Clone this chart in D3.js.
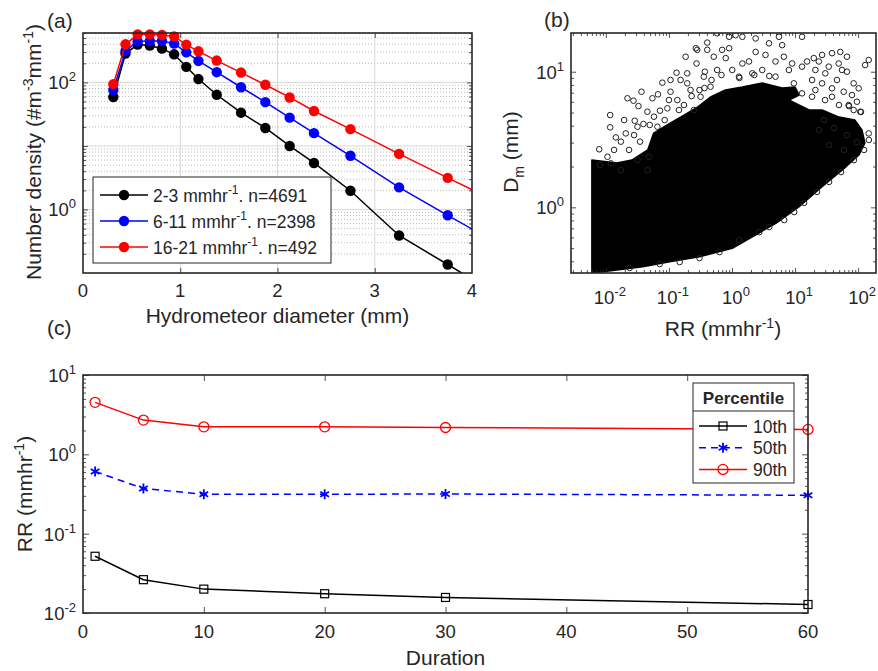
<!DOCTYPE html>
<html>
<head>
<meta charset="utf-8">
<script src="https://cdn.jsdelivr.net/npm/d3@7"></script>
<style>
  body { margin: 0; background: #fff; }
  text { font-family: "Liberation Sans", Arial, Helvetica, sans-serif; fill: #262626; }
</style>
</head>
<body>
<div id="fig"></div>
<script>
// ---- panel (a): drop size distributions ----
var diam = [0.312, 0.437, 0.562, 0.687, 0.812, 0.937, 1.062, 1.187, 1.375, 1.625, 1.875, 2.125, 2.375, 2.75, 3.25, 3.75, 4.25];
var nd_2_3 = [59, 285, 394, 380, 340, 277, 176, 113, 64, 33.4, 19.2, 10, 5.4, 1.97, 0.39, 0.136, 0.047];
var nd_6_11 = [76, 313, 443, 449, 449, 408, 298, 218, 145, 84, 49, 27.9, 15.9, 7.0, 2.23, 0.81, 0.30];
var nd_16_21 = [94, 398, 571, 571, 557, 531, 394, 309, 221, 143, 92, 58, 35.5, 18.4, 7.5, 3.14, 1.35];
var rateBins = ["2-3", "6-11", "16-21"];
var binCounts = [4691, 2398, 492];

// ---- panel (b): RR vs Dm scatter ----
// dense core of the cloud (outline)
var coreRR = [0.0060, 0.0060, 0.0149, 0.0258, 0.0461, 0.0573, 0.106, 0.153, 0.284, 0.456, 0.787, 1.46, 3.02, 6.25, 10.0, 11.6, 8.07, 16.7, 26.8, 49.8, 88.9, 115, 128, 103, 64.1, 26.8, 11.6, 5.02, 2.10, 1.01, 0.305, 0.103, 0.0385, 0.00897];
var coreDm = [0.328, 2.23, 2.12, 2.23, 2.65, 3.53, 4.19, 4.63, 5.49, 6.51, 7.33, 7.71, 8.26, 7.58, 7.71, 6.73, 6.18, 5.22, 5.22, 4.63, 4.40, 3.72, 2.98, 2.43, 1.99, 1.42, 1.01, 0.766, 0.607, 0.499, 0.432, 0.397, 0.365, 0.335];
// scattered points outside the core
var ptRR = [0.0117, 0.0117, 0.00784, 0.0220, 0.0274, 0.0367, 0.0329, 0.0547, 0.0670, 0.0787, 0.106, 0.132, 0.184, 0.267, 0.405, 0.582, 0.274, 0.371, 0.195, 0.0456, 0.0721, 0.0195, 0.0287, 0.0394, 0.0207, 0.0144, 0.0173, 0.0280, 0.0348, 0.0135, 0.0106, 0.106, 0.136, 0.195, 0.0944, 0.144,
  1.46, 2.37, 3.86, 6.25, 6.65, 7.98, 4.90, 3.02, 1.86, 0.900, 0.795, 1.01, 12.9, 19.8, 26.8, 38.5, 52.1, 66.5, 49.2, 34.2, 21.0, 18.6, 26.8, 46.2, 66.5, 147, 129, 102, 79.8, 95.7, 84.9, 147, 9.57, 12.9, 18.6, 38.5, 59.0, 1.14, 0.900, 5.55,
  0.305, 0.473, 0.681, 1.31, 2.26, 3.90, 0.229, 0.366, 0.0855, 0.0496, 0.00804,
  1.31, 2.71, 6.73, 13.9, 22.3, 34.6, 53.5, 85.9, 0.305, 0.632, 0.148, 0.0713, 0.0239, 3.90, 9.68, 124, 148,
  28.8, 41.5, 66.5, 95.7, 59.7, 34.6, 24.0, 111, 71.6, 49.8, 29.9,
  0.153, 0.220, 0.317, 0.456, 0.357, 0.582, 0.514, 0.698, 0.281, 0.405, 0.100, 0.173, 0.248, 0.0579, 0.0317, 0.0233, 0.0317, 0.0483, 0.0120, 0.0173, 0.0456, 0.0656,
  2.37, 3.40, 4.90, 8.99, 12.9, 2.10, 1.29, 1.46, 15.5, 23.8, 55.5, 84.9, 30.2, 21.0, 38.5, 70.8, 108];
var ptDm = [4.79, 3.89, 2.68, 6.37, 6.11, 7.12, 5.58, 6.37, 6.81, 8.30, 8.69, 9.83, 12.9, 14.9, 16.4, 19.2, 11.5, 10.0, 9.73, 5.07, 5.16, 4.40, 4.35, 4.12, 3.51, 3.28, 3.05, 3.41, 3.05, 2.65, 2.36, 7.12, 6.18, 8.21, 5.37, 5.22,
  18.1, 14.0, 16.2, 15.7, 12.9, 10.3, 11.9, 10.3, 11.9, 14.9, 12.6, 10.3, 10.9, 12.6, 13.3, 13.7, 14.0, 12.9, 11.5, 10.9, 10.3, 8.69, 8.21, 8.69, 10.0, 12.2, 11.2, 7.54, 6.73, 6.01, 5.22, 3.51, 8.21, 6.93, 6.54, 6.54, 7.12, 18.6, 18.1, 18.1,
  7.33, 8.69, 9.46, 8.99, 9.46, 9.30, 6.62, 7.58, 4.40, 4.05, 2.05,
  0.574, 0.657, 0.806, 1.08, 1.30, 1.54, 1.82, 2.23, 0.423, 0.468, 0.395, 0.382, 0.357, 0.716, 0.923, 2.65, 3.14,
  4.40, 3.85, 3.41, 3.03, 2.65, 2.88, 3.72, 5.05, 5.58, 5.68, 6.18,
  8.69, 7.33, 6.54, 7.75, 9.19, 10.3, 12.9, 14.5, 14.5, 14.5, 6.18, 5.68, 5.22, 4.66, 3.93, 2.65, 2.23, 2.36, 2.11, 1.88, 1.88, 3.93,
  17.6, 13.3, 9.19, 11.5, 18.1, 9.73, 9.19, 11.5, 11.9, 11.9, 10.3, 8.21, 9.73, 7.33, 7.54, 5.68, 5.07];

// ---- panel (c): RR percentiles vs duration ----
var duration = [1, 5, 10, 20, 30, 60];
var rr10 = [0.0519, 0.0263, 0.0200, 0.0175, 0.0157, 0.0128];
var rr50 = [0.608, 0.371, 0.314, 0.314, 0.316, 0.305];
var rr90 = [4.52, 2.70, 2.22, 2.22, 2.18, 2.06];
var pctNames = ["10th", "50th", "90th"];

var W = 878, H = 671;
var tickFont = "18.5px", labFont = "21px", supFont = "13px";

var svg = d3.select("#fig").append("svg")
  .attr("width", W).attr("height", H);

// helpers
function logTicks(lo, hi) {
  var out = [];
  for (var k = -4; k <= 3; k++) {
    for (var m = 1; m <= 9; m++) {
      var v = m * Math.pow(10, k);
      if (v >= lo * 0.999 && v <= hi * 1.001) out.push(v);
    }
  }
  return out;
}
function tickSet(x, y, xVals, yVals, len) {
  var x0 = x.range()[0], x1 = x.range()[1];
  var yb = y.range()[0], yt = y.range()[1];
  if (xVals) {
    svg.append("g").attr("transform", "translate(0," + yb + ")")
      .call(d3.axisBottom(x).tickValues(xVals).tickSize(-len).tickFormat(""));
    svg.append("g").attr("transform", "translate(0," + yt + ")")
      .call(d3.axisTop(x).tickValues(xVals).tickSize(-len).tickFormat(""));
  }
  if (yVals) {
    svg.append("g").attr("transform", "translate(" + x0 + ",0)")
      .call(d3.axisLeft(y).tickValues(yVals).tickSize(-len).tickFormat(""));
    svg.append("g").attr("transform", "translate(" + x1 + ",0)")
      .call(d3.axisRight(y).tickValues(yVals).tickSize(-len).tickFormat(""));
  }
  svg.selectAll(".domain").remove();
  svg.selectAll(".tick line").attr("stroke", "#262626").attr("stroke-width", 0.8);
}
function frame(x, y) {
  svg.append("rect")
    .attr("x", x.range()[0]).attr("y", y.range()[1])
    .attr("width", x.range()[1] - x.range()[0])
    .attr("height", y.range()[0] - y.range()[1])
    .attr("fill", "none").attr("stroke", "#262626").attr("stroke-width", 1.6);
}
function powLabel(t, exp) {
  t.append("tspan").text("10");
  t.append("tspan").attr("dy", -8).style("font-size", supFont).text(exp);
}
function yPowLabels(y, vals, xr) {
  vals.forEach(function (v) {
    var t = svg.append("text").attr("x", xr).attr("y", y(v) + 7)
      .attr("text-anchor", "end").style("font-size", tickFont);
    powLabel(t, String(Math.round(Math.log10(v))));
  });
}
function xPowLabels(x, vals, yb) {
  vals.forEach(function (v) {
    var t = svg.append("text").attr("x", x(v) + 4).attr("y", yb)
      .attr("text-anchor", "middle").style("font-size", tickFont);
    powLabel(t, String(Math.round(Math.log10(v))));
  });
}
function clipFor(id, x, y) {
  svg.append("clipPath").attr("id", id).append("rect")
    .attr("x", x.range()[0]).attr("y", y.range()[1])
    .attr("width", x.range()[1] - x.range()[0])
    .attr("height", y.range()[0] - y.range()[1]);
}

// =================== (a) ===================
var xa = d3.scaleLinear().domain([0, 4]).range([83, 472]);
var ya = d3.scaleLog().domain([0.1, 600]).range([273, 33]);
clipFor("clipA", xa, ya);

// grid
var majA = [1, 10, 100];
var minA = logTicks(0.1, 600).filter(function (v) { return [0.1, 1, 10, 100].indexOf(v) < 0; });
svg.append("g").selectAll("line.mn").data(minA).enter().append("line")
  .attr("x1", xa(0)).attr("x2", xa(4))
  .attr("y1", function (d) { return ya(d); }).attr("y2", function (d) { return ya(d); })
  .attr("stroke", "#a8a8a8").attr("stroke-width", 0.8).attr("stroke-dasharray", "1,2");
svg.append("g").selectAll("line.mj").data(majA).enter().append("line")
  .attr("x1", xa(0)).attr("x2", xa(4))
  .attr("y1", function (d) { return ya(d); }).attr("y2", function (d) { return ya(d); })
  .attr("stroke", "#d8d8d8").attr("stroke-width", 1);
svg.append("g").selectAll("line.vx").data([1, 2, 3]).enter().append("line")
  .attr("y1", ya(0.1)).attr("y2", ya(600))
  .attr("x1", function (d) { return xa(d); }).attr("x2", function (d) { return xa(d); })
  .attr("stroke", "#d8d8d8").attr("stroke-width", 1);

tickSet(xa, ya, [1, 2, 3], null, 5);
tickSet(xa, ya, null, [1, 10, 100], 5);
tickSet(xa, ya, null, minA, 3);

var psd = [nd_2_3, nd_6_11, nd_16_21];
var colA = ["#000000", "#0000ff", "#ff0000"];
var lineA = d3.line()
  .x(function (d) { return xa(d[0]); })
  .y(function (d) { return ya(d[1]); });
psd.forEach(function (vals, i) {
  var pts = diam.map(function (d, j) { return [d, vals[j]]; });
  svg.append("path").datum(pts).attr("d", lineA)
    .attr("clip-path", "url(#clipA)")
    .attr("fill", "none").attr("stroke", colA[i]).attr("stroke-width", 1.5);
  svg.append("g").selectAll("circle").data(pts.filter(function (p) { return p[0] <= 4; }))
    .enter().append("circle")
    .attr("cx", function (d) { return xa(d[0]); })
    .attr("cy", function (d) { return ya(d[1]); })
    .attr("r", 5.2).attr("fill", colA[i]);
});

// legend (a)
svg.append("rect").attr("x", 93).attr("y", 177).attr("width", 238).attr("height", 86)
  .attr("fill", "#fff").attr("stroke", "#262626").attr("stroke-width", 1);
rateBins.forEach(function (b, i) {
  var ly = 195 + i * 26;
  svg.append("line").attr("x1", 100).attr("x2", 148).attr("y1", ly).attr("y2", ly)
    .attr("stroke", colA[i]).attr("stroke-width", 1.5);
  svg.append("circle").attr("cx", 124).attr("cy", ly).attr("r", 5.2).attr("fill", colA[i]);
  var t = svg.append("text").attr("x", 153).attr("y", ly + 6.5).style("font-size", "17.5px");
  t.append("tspan").text(b + " mmhr");
  t.append("tspan").attr("dy", -8).style("font-size", "12px").text("-1");
  t.append("tspan").attr("dy", 8).text(". n=" + binCounts[i]);
});

frame(xa, ya);
[0, 1, 2, 3, 4].forEach(function (v) {
  svg.append("text").attr("x", xa(v)).attr("y", 297).attr("text-anchor", "middle")
    .style("font-size", tickFont).text(v);
});
yPowLabels(ya, [1, 100], 76);
svg.append("text").attr("x", xa(2)).attr("y", 323).attr("text-anchor", "middle")
  .style("font-size", labFont).text("Hydrometeor diameter (mm)");
var yla = svg.append("text").attr("transform", "translate(41,152) rotate(-90)")
  .attr("text-anchor", "middle").style("font-size", labFont);
yla.append("tspan").text("Number density (#m");
yla.append("tspan").attr("dy", -8).style("font-size", "14px").text("-3");
yla.append("tspan").attr("dy", 8).text("mm");
yla.append("tspan").attr("dy", -8).style("font-size", "14px").text("-1");
yla.append("tspan").attr("dy", 8).text(")");
svg.append("text").attr("x", 47).attr("y", 28).style("font-size", labFont).text("(a)");

// =================== (b) ===================
var xb = d3.scaleLog().domain([0.0028, 192]).range([571, 876]);
var yb = d3.scaleLog().domain([0.328, 19.3]).range([273, 33]);
clipFor("clipB", xb, yb);

var core = coreRR.map(function (r, i) { return [r, coreDm[i]]; });
svg.append("path").datum(core)
  .attr("d", d3.line().x(function (d) { return xb(d[0]); }).y(function (d) { return yb(d[1]); })
    .curve(d3.curveLinearClosed))
  .attr("clip-path", "url(#clipB)")
  .attr("fill", "#000").attr("stroke", "#000").attr("stroke-width", 1.5)
  .attr("stroke-linejoin", "round");
svg.append("g").attr("clip-path", "url(#clipB)")
  .selectAll("circle").data(ptRR).enter().append("circle")
  .attr("cx", function (d) { return xb(d); })
  .attr("cy", function (d, i) { return yb(ptDm[i]); })
  .attr("r", 2.8).attr("fill", "none").attr("stroke", "#222").attr("stroke-width", 1);

var majBx = [0.01, 0.1, 1, 10, 100];
var minBx = logTicks(0.0028, 192).filter(function (v) { return majBx.indexOf(v) < 0; });
var minBy = logTicks(0.328, 19.3).filter(function (v) { return v !== 1 && v !== 10; });
tickSet(xb, yb, majBx, [1, 10], 5);
tickSet(xb, yb, minBx, minBy, 3);
frame(xb, yb);
xPowLabels(xb, majBx, 304);
yPowLabels(yb, [1, 10], 564);
var xlb = svg.append("text").attr("x", 723).attr("y", 336).attr("text-anchor", "middle")
  .style("font-size", labFont);
xlb.append("tspan").text("RR (mmhr");
xlb.append("tspan").attr("dy", -8).style("font-size", "14px").text("-1");
xlb.append("tspan").attr("dy", 8).text(")");
var ylb = svg.append("text").attr("transform", "translate(518,152) rotate(-90)")
  .attr("text-anchor", "middle").style("font-size", labFont);
ylb.append("tspan").text("D");
ylb.append("tspan").attr("dy", 6).style("font-size", "14px").text("m");
ylb.append("tspan").attr("dy", -6).text(" (mm)");
svg.append("text").attr("x", 544).attr("y", 27).style("font-size", labFont).text("(b)");

// =================== (c) ===================
var xc = d3.scaleLinear().domain([0, 60]).range([83, 808]);
var yc = d3.scaleLog().domain([0.01, 10]).range([613, 375]);
var majCy = [0.01, 0.1, 1, 10];
var minCy = logTicks(0.01, 10).filter(function (v) { return majCy.indexOf(v) < 0; });
tickSet(xc, yc, d3.range(10, 60, 10), majCy, 6);
tickSet(xc, yc, null, minCy, 3);

var pct = [rr10, rr50, rr90];
var colC = ["#000000", "#0000ff", "#ff0000"];
var dashC = [null, "7,5", null];
var lineC = d3.line().x(function (d) { return xc(d[0]); }).y(function (d) { return yc(d[1]); });
function marker(g, i, cx, cy) {
  if (i === 0) {
    g.append("rect").attr("x", cx - 4).attr("y", cy - 4).attr("width", 8).attr("height", 8)
      .attr("fill", "none").attr("stroke", colC[i]).attr("stroke-width", 1.2);
  } else if (i === 1) {
    g.append("path").attr("d", d3.symbol().type(d3.symbolAsterisk).size(70)())
      .attr("transform", "translate(" + cx + "," + cy + ")")
      .attr("fill", "none").attr("stroke", colC[i]).attr("stroke-width", 1.8);
  } else {
    g.append("circle").attr("cx", cx).attr("cy", cy).attr("r", 5)
      .attr("fill", "none").attr("stroke", colC[i]).attr("stroke-width", 1.3);
  }
}
pct.forEach(function (vals, i) {
  var pts = duration.map(function (d, j) { return [d, vals[j]]; });
  svg.append("path").datum(pts).attr("d", lineC)
    .attr("fill", "none").attr("stroke", colC[i]).attr("stroke-width", 1.5)
    .attr("stroke-dasharray", dashC[i]);
  var g = svg.append("g");
  pts.forEach(function (p) { marker(g, i, xc(p[0]), yc(p[1])); });
});

// legend (c)
svg.append("rect").attr("x", 693).attr("y", 383).attr("width", 101).attr("height", 100)
  .attr("fill", "#fff").attr("stroke", "#262626").attr("stroke-width", 1);
svg.append("line").attr("x1", 693).attr("x2", 794).attr("y1", 411).attr("y2", 411)
  .attr("stroke", "#262626").attr("stroke-width", 1);
svg.append("text").attr("x", 743.5).attr("y", 404).attr("text-anchor", "middle")
  .style("font-size", "17px").style("font-weight", "bold").text("Percentile");
pctNames.forEach(function (n, i) {
  var ly = 426 + i * 21.7;
  var g = svg.append("g");
  g.append("line").attr("x1", 699).attr("x2", 747).attr("y1", ly).attr("y2", ly)
    .attr("stroke", colC[i]).attr("stroke-width", 1.5).attr("stroke-dasharray", dashC[i]);
  marker(g, i, 723, ly);
  svg.append("text").attr("x", 753).attr("y", ly + 6.5).style("font-size", "17.5px").text(n);
});

frame(xc, yc);
d3.range(0, 70, 10).forEach(function (v) {
  svg.append("text").attr("x", xc(v)).attr("y", 638).attr("text-anchor", "middle")
    .style("font-size", tickFont).text(v);
});
yPowLabels(yc, majCy, 76);
svg.append("text").attr("x", xc(30)).attr("y", 665).attr("text-anchor", "middle")
  .style("font-size", labFont).text("Duration");
var ylc = svg.append("text").attr("transform", "translate(32,494) rotate(-90)")
  .attr("text-anchor", "middle").style("font-size", labFont);
ylc.append("tspan").text("RR (mmhr");
ylc.append("tspan").attr("dy", -8).style("font-size", "14px").text("-1");
ylc.append("tspan").attr("dy", 8).text(")");
svg.append("text").attr("x", 47).attr("y", 335).style("font-size", labFont).text("(c)");
</script>
</body>
</html>
